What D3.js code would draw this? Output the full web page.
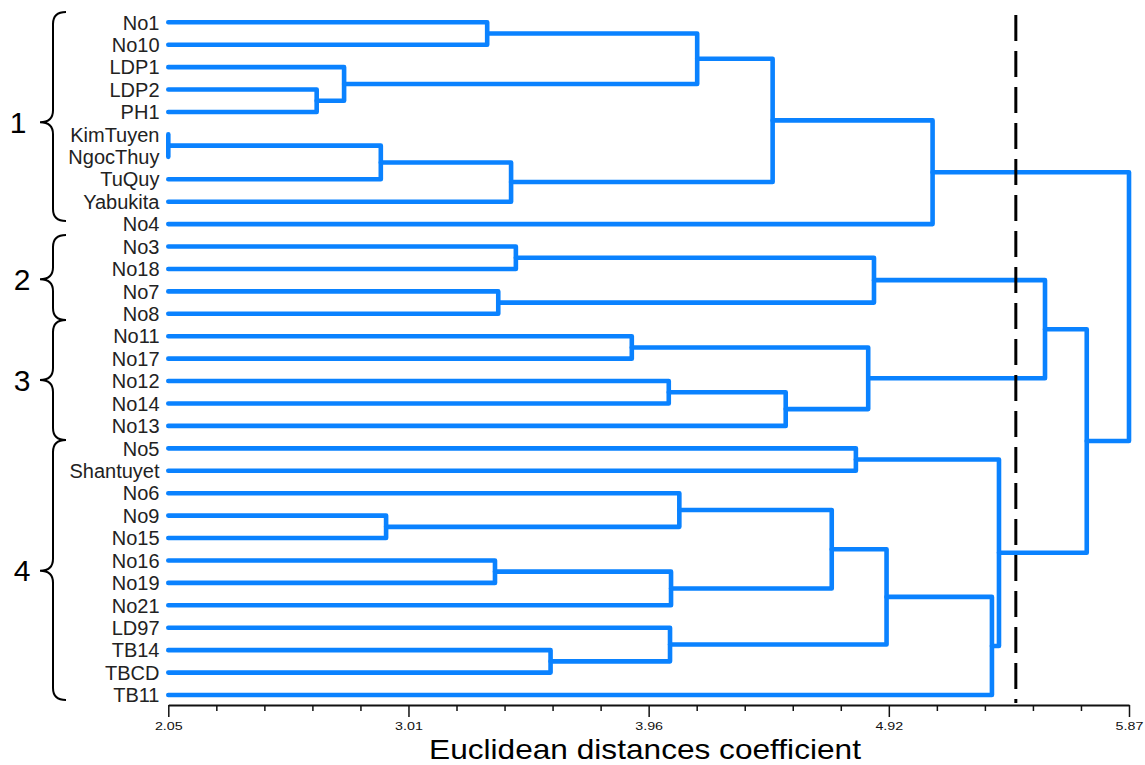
<!DOCTYPE html>
<html>
<head>
<meta charset="utf-8">
<script src="https://cdn.jsdelivr.net/npm/d3@7"></script>
<style>
  html, body { margin: 0; padding: 0; background: #ffffff; }
  svg { display: block; }
</style>
</head>
<body>
<svg id="chart" width="1145" height="765"></svg>
<script>
// ---------- DATA ----------
const leaves = ["No1","No10","LDP1","LDP2","PH1","KimTuyen","NgocThuy","TuQuy","Yabukita","No4",
  "No3","No18","No7","No8","No11","No17","No12","No14","No13","No5","Shantuyet",
  "No6","No9","No15","No16","No19","No21","LD97","TB14","TBCD","TB11"];

// linkage: [childA, childB, distance]; ids 0..30 are leaves, 31+k is merge k
const mergeA = [5, 3, 2, 0, 31, 35, 34, 37, 38, 10, 12, 40, 14, 16, 44, 43, 42, 19, 22, 21, 24, 51, 50, 28, 27, 53, 56, 48, 47, 39];
const mergeB = [6, 4, 32, 1, 7, 8, 33, 36, 9, 11, 13, 41, 15, 17, 18, 45, 46, 20, 23, 49, 25, 26, 52, 29, 54, 55, 30, 57, 58, 59];
const mergeDist = [2.05, 2.640, 2.749, 3.318, 2.895, 3.413, 4.153, 4.453, 5.089, 3.432, 3.362, 4.856,
  3.893, 4.040, 4.505, 4.833, 5.536, 4.784, 2.916, 4.082, 3.349, 4.049, 4.688, 3.570, 4.045,
  4.906, 5.325, 5.353, 5.702, 5.87];

const tickValues = [2.05, 3.01, 3.96, 4.92, 5.87];
const tickLabels = ["2.05", "3.01", "3.96", "4.92", "5.87"];
const cutoff = 5.42;

const groupNames = ["1", "2", "3", "4"];
const groupFirst = ["No1", "No3", "No11", "No5"];
const groupLast = ["No4", "No8", "No13", "TB11"];

const axisTitle = "Euclidean distances coefficient";

// ---------- BUILD TREE ----------
const nodes = leaves.map(name => ({ name, h: 2.05 }));
mergeA.forEach((a, k) => {
  nodes.push({ name: "m" + k, h: mergeDist[k], children: [nodes[a], nodes[mergeB[k]]] });
});
const rootData = nodes[nodes.length - 1];
const root = d3.hierarchy(rootData, d => d.children);

// ---------- SCALES ----------
const x = d3.scaleLinear().domain([2.05, 5.87]).range([168.3, 1129]);
const y = d3.scalePoint().domain(leaves).range([22.3, 695]);

root.eachAfter(n => {
  if (!n.children) n.yy = y(n.data.name);
  else n.yy = d3.mean(n.children, c => c.yy);
});

const svg = d3.select("#chart");
svg.append("rect").attr("width", 1145).attr("height", 765).attr("fill", "#ffffff");

// ---------- DENDROGRAM LINKS ----------
const gTree = svg.append("g")
  .attr("fill", "none")
  .attr("stroke", "#0a82ff")
  .attr("stroke-width", 4.6)
  .attr("stroke-linejoin", "round")
  .attr("stroke-linecap", "round");

root.descendants().filter(n => n.children).forEach(n => {
  const [a, b] = n.children;
  const p = d3.path();
  p.moveTo(x(a.data.h), a.yy);
  p.lineTo(x(n.data.h), a.yy);
  p.lineTo(x(n.data.h), b.yy);
  p.lineTo(x(b.data.h), b.yy);
  gTree.append("path").attr("d", p.toString());
});

// ---------- LEAF LABELS ----------
svg.append("g")
  .selectAll("text")
  .data(leaves)
  .join("text")
  .attr("x", 159.5)
  .attr("y", d => y(d))
  .attr("dy", "0.36em")
  .attr("text-anchor", "end")
  .attr("font-family", "Liberation Sans, Arial, sans-serif")
  .attr("font-size", 20)
  .attr("fill", "#222")
  .text(d => d);

// ---------- CUTOFF LINE ----------
svg.append("line")
  .attr("x1", x(cutoff)).attr("x2", x(cutoff))
  .attr("y1", 15).attr("y2", 703)
  .attr("stroke", "#000")
  .attr("stroke-width", 3)
  .attr("stroke-dasharray", "26,10");

// ---------- AXIS ----------
const minorTicks = [];
for (let i = 0; i < tickValues.length - 1; i++) {
  for (let j = 1; j < 5; j++) minorTicks.push(tickValues[0] + (i * 5 + j) * (tickValues[4] - tickValues[0]) / 20);
}
const majorPos = tickValues.map((v, i) => tickValues[0] + i * (tickValues[4] - tickValues[0]) / 4);

const gAxis = svg.append("g").attr("transform", "translate(0,705)");
gAxis.call(d3.axisBottom(x).tickValues(majorPos).tickSize(12).tickSizeOuter(0)
  .tickFormat((d, i) => tickLabels[i]));
gAxis.select(".domain").attr("stroke", "#111").attr("stroke-width", 1.8);
gAxis.selectAll(".tick line").attr("stroke", "#111").attr("stroke-width", 1.5);
gAxis.selectAll(".tick text")
  .attr("y", 25).attr("dy", 0)
  .attr("font-family", "Liberation Sans, Arial, sans-serif")
  .attr("font-size", 11)
  .attr("fill", "#111")
  .attr("transform", "scale(1.3,1)");

const gMinor = svg.append("g").attr("transform", "translate(0,705)");
gMinor.call(d3.axisBottom(x).tickValues(minorTicks).tickSize(6).tickSizeOuter(0).tickFormat(""));
gMinor.select(".domain").remove();
gMinor.selectAll(".tick line").attr("stroke", "#111").attr("stroke-width", 1.5);

// ---------- AXIS TITLE ----------
svg.append("rect").attr("x", 424).attr("y", 735).attr("width", 442).attr("height", 30).attr("fill", "#fff");
svg.append("text")
  .attr("transform", "translate(645,759) scale(1.13,1)")
  .attr("text-anchor", "middle")
  .attr("font-family", "Liberation Sans, Arial, sans-serif")
  .attr("font-size", 28)
  .attr("fill", "#000")
  .text(axisTitle);

// ---------- BRACES ----------
const braceTops = [12, 235, 320, 440];
const braceBottoms = [221, 320, 440, 700];
const gBr = svg.append("g").attr("fill", "none").attr("stroke", "#000").attr("stroke-width", 2);
groupNames.forEach((g, i) => {
  const y0 = braceTops[i], y1 = braceBottoms[i];
  const ym = (y(groupFirst[i]) + y(groupLast[i])) / 2 - 1;
  const xe = 66, xv = 53, xt = 40, r = 12;
  const p = d3.path();
  p.moveTo(xe, y0);
  p.quadraticCurveTo(xv, y0, xv, y0 + r);
  p.lineTo(xv, ym - r);
  p.quadraticCurveTo(xv, ym, xt, ym);
  p.quadraticCurveTo(xv, ym, xv, ym + r);
  p.lineTo(xv, y1 - r);
  p.quadraticCurveTo(xv, y1, xe, y1);
  gBr.append("path").attr("d", p.toString());
  svg.append("text")
    .attr("x", i === 0 ? 18 : 22)
    .attr("y", ym)
    .attr("dy", "0.36em")
    .attr("text-anchor", "middle")
    .attr("font-family", "Liberation Sans, Arial, sans-serif")
    .attr("font-size", 30)
    .attr("fill", "#000")
    .text(g);
});
</script>
</body>
</html>
